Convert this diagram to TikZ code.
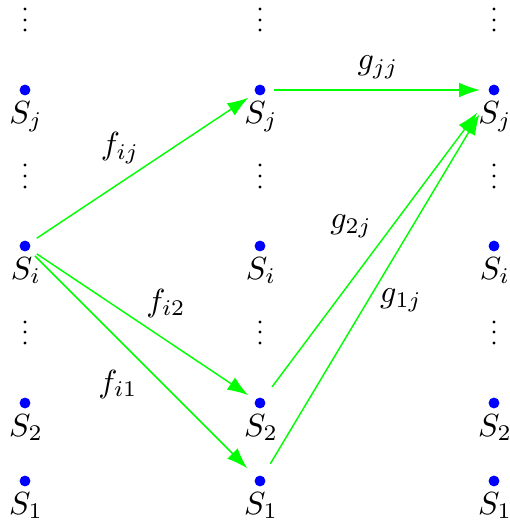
\documentclass[tikz,border=0pt]{standalone}
\usetikzlibrary{arrows.meta}
\begin{document}
\begin{tikzpicture}[x=0.3125pt,y=-0.3125pt,
  dotnode/.style={circle,fill=blue,inner sep=0pt,minimum size=3.4pt},
  vdot/.style={circle,fill=black,inner sep=0pt,minimum size=1pt},
  slabel/.style={anchor=base,inner sep=0pt},
  elabel/.style={inner sep=0pt},
  arr/.style={draw=green,line width=0.45pt,-{Latex[length=6.5pt,width=4.6pt]},shorten <=2.5pt,shorten >=2.5pt}]
\useasboundingbox (0,0) rectangle (510,524);
% dots
\foreach \c/\x in {a/25,b/260,c/494}{
  \node[dotnode] (\c j) at (\x,90) {};
  \node[dotnode] (\c i) at (\x,246) {};
  \node[dotnode] (\c 2) at (\x,403) {};
  \node[dotnode] (\c 1) at (\x,481) {};
  \node[slabel] (\c jl) at (\x+1,123) {$S_j$};
  \node[slabel] (\c il) at (\x+1,279) {$S_i$};
  \node[slabel] (\c 2l) at (\x+1,436) {$S_2$};
  \node[slabel] (\c 1l) at (\x+1,514) {$S_1$};
  \foreach \y in {9,20,30,165,176,187,322,332,343}{
    \node[vdot] at (\x,\y) {};
  }
}
% arrows
\draw[arr] (ai) -- (bj);
\draw[arr] (ai) -- (b2);
\draw[arr,shorten >=3.7pt] (ai) -- (b1);
\draw[arr] (bj) -- (cj);
\draw[arr,shorten <=4.4pt,shorten >=6.9pt] (b2) -- (cj);
\draw[arr,shorten <=4.4pt,shorten >=6.9pt] (b1) -- (cj);
% labels
\node[elabel] at (120,148) {$f_{ij}$};
\node[elabel] at (166,303) {$f_{i2}$};
\node[elabel] at (118,384) {$f_{i1}$};
\node[elabel] at (378,67) {$g_{jj}$};
\node[elabel] at (351,226) {$g_{2j}$};
\node[elabel] at (401,300) {$g_{1j}$};
\end{tikzpicture}
\end{document}
